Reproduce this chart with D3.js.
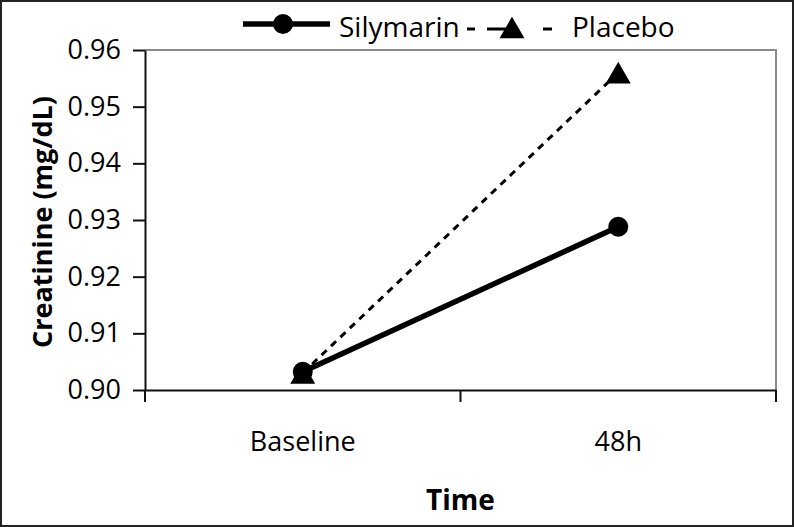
<!DOCTYPE html>
<html>
<head>
<meta charset="utf-8">
<script src="https://cdn.jsdelivr.net/npm/d3@7"></script>
<style>
  body { margin: 0; background: #fff; }
  svg text { font-family: "Open Sans", Lato, sans-serif; fill: #000; }
</style>
</head>
<body>
<div id="chart"></div>
<script>
var width = 794;
var height = 527;

var categories = ["Baseline", "48h"];
var silymarin = [0.9032, 0.9288];
var placebo = [0.9030, 0.9560];
var yTicks = [0.90, 0.91, 0.92, 0.93, 0.94, 0.95, 0.96];

var plotLeft = 145, plotRight = 776, plotTop = 50, plotBottom = 390;
var FONT = "'Open Sans', Lato, sans-serif";

var svg = d3.select("#chart").append("svg")
    .attr("width", width)
    .attr("height", height);

// outer frame
svg.append("rect")
    .attr("x", 1).attr("y", 1)
    .attr("width", width - 2).attr("height", height - 2)
    .attr("fill", "none")
    .attr("stroke", "#222")
    .attr("stroke-width", 2);

var scaleX = d3.scaleBand().domain(categories).range([plotLeft, plotRight]);
var scaleY = d3.scaleLinear().domain([0.90, 0.96]).range([plotBottom, plotTop]);

// plot border (top / right)
svg.append("path")
    .attr("d", "M" + plotLeft + "," + plotTop + "H" + plotRight + "V" + plotBottom)
    .attr("fill", "none")
    .attr("stroke", "#8a8a8a")
    .attr("stroke-width", 2);

// Y axis
var yAxis = svg.append("g")
    .attr("transform", "translate(" + plotLeft + ",0)")
    .call(d3.axisLeft(scaleY).tickValues(yTicks).tickFormat(d3.format(".2f"))
        .tickSize(12).tickPadding(12).tickSizeOuter(0));
yAxis.select(".domain").attr("stroke", "#111").attr("stroke-width", 2);
yAxis.selectAll(".tick line").attr("stroke", "#111").attr("stroke-width", 2);
yAxis.selectAll("text").style("font-size", "27px").style("font-family", FONT);

// X axis
var xAxis = svg.append("g")
    .attr("transform", "translate(0," + plotBottom + ")")
    .call(d3.axisBottom(scaleX).tickSize(0).tickPadding(42));
xAxis.select(".domain").attr("stroke", "#111").attr("stroke-width", 2);
xAxis.selectAll("text").style("font-size", "27px").style("font-family", FONT);

// tick marks sit between the categories
var bounds = [plotLeft, scaleX(categories[1]), plotRight];
xAxis.selectAll("line.bound").data(bounds).enter().append("line")
    .attr("class", "bound")
    .attr("x1", function(d) { return d; }).attr("x2", function(d) { return d; })
    .attr("y1", 0).attr("y2", 12)
    .attr("stroke", "#111").attr("stroke-width", 2);

// axis titles
svg.append("text")
    .attr("x", (plotLeft + plotRight) / 2)
    .attr("y", 510)
    .attr("text-anchor", "middle")
    .style("font-size", "28px")
    .style("font-weight", "bold")
    .text("Time");

svg.append("text")
    .attr("transform", "translate(52,222) rotate(-90)")
    .attr("text-anchor", "middle")
    .style("font-size", "27px")
    .style("font-weight", "bold")
    .text("Creatinine (mg/dL)");

function cx(i) { return scaleX(categories[i]) + scaleX.bandwidth() / 2; }

var line = d3.line()
    .x(function(d, i) { return cx(i); })
    .y(function(d) { return scaleY(d); });

var TRI_SIZE = 270;
var tri = d3.symbol().type(d3.symbolTriangle).size(TRI_SIZE);
// shift so the triangle's bounding box (not centroid) sits on the point
var triShift = Math.sqrt(TRI_SIZE / (Math.sqrt(3) * 3)) / 2;

// Placebo
svg.append("path")
    .attr("d", line(placebo))
    .attr("fill", "none")
    .attr("stroke", "#000")
    .attr("stroke-width", 3)
    .attr("stroke-dasharray", "7,6");
svg.selectAll("path.tri").data(placebo).enter().append("path")
    .attr("class", "tri")
    .attr("d", tri)
    .attr("transform", function(d, i) { return "translate(" + cx(i) + "," + (scaleY(d) + triShift) + ")"; })
    .attr("fill", "#000");

// Silymarin
svg.append("path")
    .attr("d", line(silymarin))
    .attr("fill", "none")
    .attr("stroke", "#000")
    .attr("stroke-width", 5.5);
svg.selectAll("circle.dot").data(silymarin).enter().append("circle")
    .attr("class", "dot")
    .attr("cx", function(d, i) { return cx(i); })
    .attr("cy", function(d) { return scaleY(d); })
    .attr("r", 10)
    .attr("fill", "#000");

// Legend
var legend = svg.append("g");
legend.append("line")
    .attr("x1", 243).attr("x2", 330).attr("y1", 24).attr("y2", 24)
    .attr("stroke", "#000").attr("stroke-width", 5.5);
legend.append("circle")
    .attr("cx", 283).attr("cy", 24).attr("r", 10).attr("fill", "#000");
legend.append("text")
    .attr("x", 339).attr("y", 37)
    .style("font-size", "28px")
    .text("Silymarin");
legend.append("line")
    .attr("x1", 467).attr("x2", 552).attr("y1", 29).attr("y2", 29)
    .attr("stroke", "#000").attr("stroke-width", 3)
    .attr("stroke-dasharray", "8,12,25,31,9");
legend.append("path")
    .attr("d", tri)
    .attr("transform", "translate(512," + (27.5 + triShift) + ")")
    .attr("fill", "#000");
legend.append("text")
    .attr("x", 572).attr("y", 37)
    .style("font-size", "28px")
    .text("Placebo");
</script>
</body>
</html>
